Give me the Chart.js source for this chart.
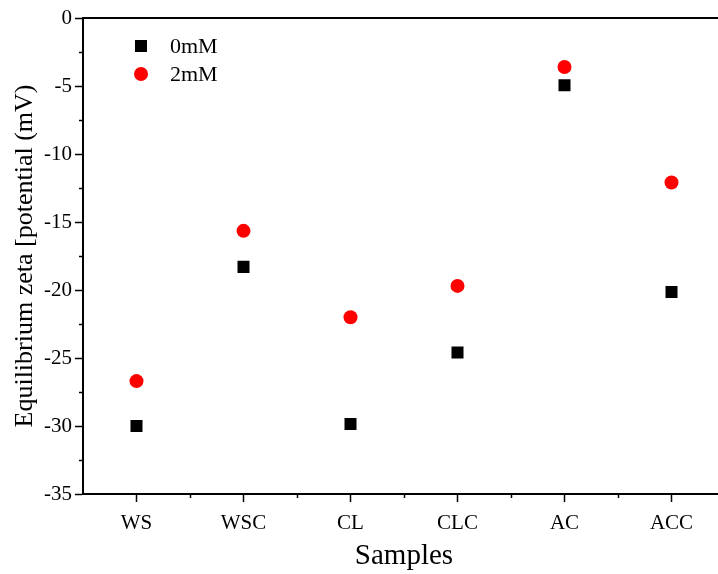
<!DOCTYPE html>
<html>
<head>
<meta charset="utf-8">
<script src="https://cdn.jsdelivr.net/npm/chart.js@4.4.0/dist/chart.umd.min.js"></script>
<style>
    html, body { margin: 0; padding: 0; background: #fff; overflow: hidden; }
    #wrap { width: 742px; height: 574px; }
</style>
</head>
<body>
<div id="wrap"><canvas id="myChart" width="742" height="574"></canvas></div>
<script>
// Samples and zeta potential values
var samples = ['WS', 'WSC', 'CL', 'CLC', 'AC', 'ACC'];
var zeta_0mM = [-30.0, -18.3, -29.85, -24.6, -4.95, -20.15];
var zeta_2mM = [-26.7, -15.65, -22.0, -19.7, -3.6, -12.1];
var yTicks = { min: -35, max: 0, step: 5, minorStep: 2.5 };

var serif = 'Liberation Serif';

// top frame line, minor ticks and the little legend in the top-left corner
var extras = {
    id: 'extras',
    afterDraw: function (chart) {
        var ctx = chart.ctx;
        var area = chart.chartArea;
        var xs = chart.scales.x;
        var ys = chart.scales.y;
        ctx.save();
        ctx.strokeStyle = '#000';
        ctx.lineWidth = 2;
        ctx.beginPath();
        ctx.moveTo(area.left - 1, area.top);
        ctx.lineTo(area.right, area.top);
        ctx.stroke();

        ctx.lineWidth = 1.5;
        ctx.beginPath();
        for (var v = yTicks.min + yTicks.minorStep; v < yTicks.max; v += yTicks.step) {
            var py = Math.round(ys.getPixelForValue(v)) + 0.5;
            ctx.moveTo(area.left, py);
            ctx.lineTo(area.left - 4, py);
        }
        for (var i = 0; i < samples.length - 1; i++) {
            var px = Math.round(xs.getPixelForValue(i + 0.5)) + 0.5;
            ctx.moveTo(px, area.bottom);
            ctx.lineTo(px, area.bottom + 4);
        }
        ctx.stroke();

        // legend
        var ds = chart.data.datasets;
        var lx = 141, ly = 46, gap = 28;
        ctx.font = '22px "' + serif + '"';
        ctx.textBaseline = 'middle';
        ctx.textAlign = 'left';
        for (var k = 0; k < ds.length; k++) {
            var cy = ly + k * gap;
            ctx.fillStyle = ds[k].backgroundColor;
            if (ds[k].pointStyle === 'rect') {
                ctx.fillRect(lx - 6, cy - 6, 12, 12);
            } else {
                ctx.beginPath();
                ctx.arc(lx, cy, 7, 0, Math.PI * 2);
                ctx.fill();
            }
            ctx.fillStyle = '#000';
            ctx.fillText(ds[k].label, 170, cy + 1);
        }
        ctx.restore();
    }
};

var ctx = document.getElementById('myChart').getContext('2d');
new Chart(ctx, {
    type: 'line',
    data: {
        labels: samples,
        datasets: [
            {
                label: '0mM',
                data: zeta_0mM,
                showLine: false,
                pointStyle: 'rect',
                pointRadius: 8.5,
                backgroundColor: '#000000',
                borderColor: '#000000',
                borderWidth: 0
            },
            {
                label: '2mM',
                data: zeta_2mM,
                showLine: false,
                pointStyle: 'circle',
                pointRadius: 7,
                backgroundColor: '#ff0000',
                borderColor: '#ff0000',
                borderWidth: 0
            }
        ]
    },
    options: {
        responsive: false,
        animation: false,
        layout: {
            padding: { top: 18, right: 17, left: 0, bottom: 0 }
        },
        scales: {
            x: {
                type: 'category',
                offset: true,
                afterFit: function (scale) { scale.height = 80; },
                border: { display: true, color: '#000', width: 2 },
                grid: { drawOnChartArea: false, drawTicks: true, tickLength: 8, tickColor: '#000', tickWidth: 1.5, offset: false },
                ticks: { color: '#000', padding: 9, font: { family: serif, size: 21 }, maxRotation: 0 },
                title: { display: true, text: 'Samples', color: '#000', font: { family: serif, size: 29 }, padding: { top: 0, bottom: 0 } }
            },
            y: {
                min: yTicks.min,
                max: yTicks.max,
                afterFit: function (scale) { scale.width = 83; },
                border: { display: true, color: '#000', width: 2 },
                grid: { drawOnChartArea: false, drawTicks: true, tickLength: 8, tickColor: '#000', tickWidth: 1.5 },
                ticks: { stepSize: yTicks.step, color: '#000', padding: 3, font: { family: serif, size: 21 } },
                title: { display: true, text: 'Equilibrium zeta [potential (mV)', color: '#000', font: { family: serif, size: 26 }, padding: { top: 10, bottom: 0 } }
            }
        },
        plugins: {
            legend: { display: false },
            tooltip: { enabled: false }
        }
    },
    plugins: [extras]
});
</script>
</body>
</html>
